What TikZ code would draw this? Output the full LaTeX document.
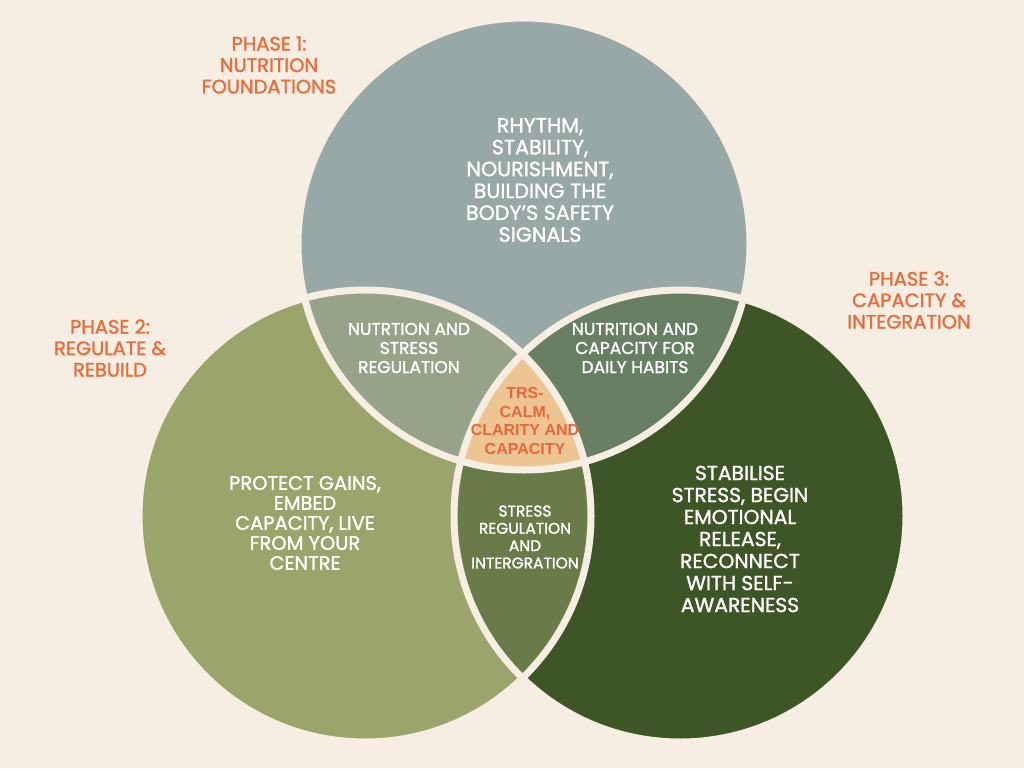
\documentclass[tikz,border=0pt]{standalone}
\usepackage{fontspec}
\setmainfont{Poppins}
\newfontfamily\phasefont{Poppins}[FakeBold=1.4]
\newfontfamily\ringfont{Poppins}[FakeBold=1.4]
\newfontfamily\corefont{Liberation Sans}

\definecolor{paper}{HTML}{F6EDE3}
\definecolor{phaseorange}{HTML}{EB6B3A}
\definecolor{coreorange}{HTML}{E8673A}
\definecolor{topfill}{HTML}{97A8A6}
\definecolor{leftfill}{HTML}{9BA46B}
\definecolor{rightfill}{HTML}{3E5626}
\definecolor{lensTL}{HTML}{97A389}
\definecolor{lensTR}{HTML}{687F64}
\definecolor{lensLR}{HTML}{6A7B4A}
\definecolor{corefill}{HTML}{EDC592}

\tikzset{every picture/.style={line width=0.75pt}}
\tikzset{
  ring edge/.style={draw=paper, line width=5.25pt},
  phase label/.style={text=phaseorange, align=center, inner sep=0.75pt,
    font=\phasefont\fontsize{14.6}{16.1}\selectfont},
  ring label/.style={text=white, align=center, inner sep=0.75pt},
  lens label/.style={text=white, align=center, inner sep=0.75pt},
  core label/.style={text=coreorange, align=center, inner sep=0.75pt,
    font=\corefont\bfseries\fontsize{12}{14}\selectfont},
}

\begin{document}
\begin{tikzpicture}[x=0.75pt,y=0.75pt,yscale=-1,xscale=1]
  % background and page size
  \fill[paper] (0,0) rectangle (1024,768);
  \useasboundingbox (0,0) rectangle (1024,768);

  % circle centres
  \coordinate (topc) at (524,244);
  \coordinate (leftc) at (365,516);
  \coordinate (rightc) at (680,516);

  % Circles
  \fill[topfill] (topc) circle [radius=226];
  \fill[leftfill] (leftc) circle [radius=226];
  \fill[rightfill] (rightc) circle [radius=226];

  % Overlaps
  \begin{scope}
    \clip (topc) circle [radius=226];
    \fill[lensTL] (leftc) circle [radius=226];
    \fill[lensTR] (rightc) circle [radius=226];
  \end{scope}
  \begin{scope}
    \clip (leftc) circle [radius=226];
    \fill[lensLR] (rightc) circle [radius=226];
  \end{scope}
  \begin{scope}
    \clip (topc) circle [radius=226];
    \clip (leftc) circle [radius=226];
    \fill[corefill] (rightc) circle [radius=226];
  \end{scope}

  % Outlines
  \draw[ring edge] (topc) circle [radius=226];
  \draw[ring edge] (leftc) circle [radius=226];
  \draw[ring edge] (rightc) circle [radius=226];

  % Phase labels
  \node[phase label] (phase1) at (269,65) {PHASE 1:\\NUTRITION\\FOUNDATIONS};
  \node[phase label] (phase2) at (110,348) {PHASE 2:\\REGULATE \&\\REBUILD};
  \node[phase label] (phase3) at (909,300) {PHASE 3:\\CAPACITY \&\\INTEGRATION};

  % Circle texts
  \node[ring label, font=\ringfont\fontsize{15.5}{16.4}\selectfont] (toptext) at (540,180)
    {RHYTHM,\\STABILITY,\\NOURISHMENT,\\BUILDING THE\\BODY’S SAFETY\\SIGNALS};
  \node[ring label, font=\ringfont\fontsize{14.6}{15}\selectfont] (lefttext) at (305,523)
    {PROTECT GAINS,\\EMBED\\CAPACITY, LIVE\\FROM YOUR\\CENTRE};
  \node[ring label, font=\ringfont\fontsize{15.2}{16.5}\selectfont] (righttext) at (740,539)
    {STABILISE\\STRESS, BEGIN\\EMOTIONAL\\RELEASE,\\RECONNECT\\WITH SELF-\\AWARENESS};

  % Overlap texts
  \node[lens label, font=\ringfont\fontsize{12.8}{14.3}\selectfont] (tltext) at (409,348)
    {NUTRTION AND\\STRESS\\REGULATION};
  \node[lens label, font=\ringfont\fontsize{12.8}{14.3}\selectfont] (trtext) at (635,348)
    {NUTRITION AND\\CAPACITY FOR\\DAILY HABITS};
  \node[lens label, font=\ringfont\fontsize{11.6}{13}\selectfont] (lrtext) at (525,537)
    {STRESS\\REGULATION\\AND\\INTERGRATION};
  \node[core label] (coretext) at (525,421) {TRS-\\CALM,\\CLARITY AND\\CAPACITY};
\end{tikzpicture}
\end{document}
